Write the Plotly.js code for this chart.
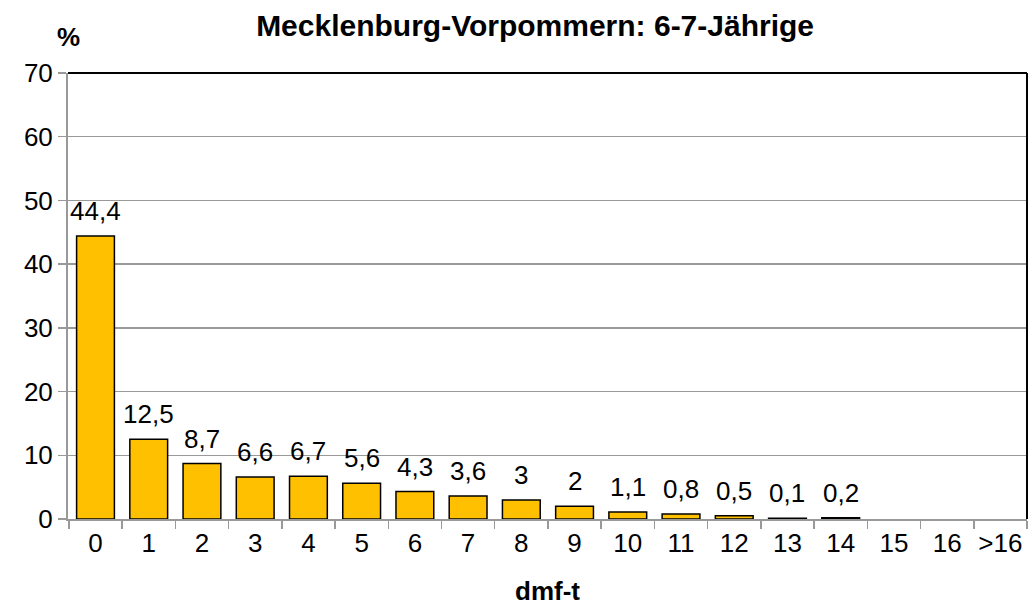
<!DOCTYPE html>
<html>
<head>
<meta charset="utf-8">
<script src="https://cdn.plot.ly/plotly-3.0.1.min.js"></script>
<style>html,body{margin:0;padding:0;background:#fff;}</style>
</head>
<body>
<div id="chart" style="width:1029px;height:606px;"></div>
<script>
const categories = ["0","1","2","3","4","5","6","7","8","9","10","11","12","13","14","15","16",">16"];
const values = [44.4, 12.5, 8.7, 6.6, 6.7, 5.6, 4.3, 3.6, 3, 2, 1.1, 0.8, 0.5, 0.1, 0.2, null, null, null];
const labels = values.map(v => v === null ? "" : String(v).replace(".", ","));
const yTicks = [0, 10, 20, 30, 40, 50, 60, 70];

const FONT = '"Liberation Sans", Arial, sans-serif';

const annotations = [];
categories.forEach((c, i) => {
  if (values[i] === null) return;
  annotations.push({
    x: c, y: values[i], xref: 'x', yref: 'y',
    text: labels[i], showarrow: false,
    yanchor: 'bottom', yshift: 8,
    font: {family: FONT, size: 26, color: '#000'}
  });
});
annotations.push({
  xref: 'paper', yref: 'paper', x: 0, y: 1, xanchor: 'center', yanchor: 'bottom',
  yshift: 19, text: '<b>%</b>', showarrow: false,
  font: {family: FONT, size: 26, color: '#000'}
});

const trace = {
  type: 'bar',
  x: categories,
  y: values,
  marker: {color: '#FFC000', line: {color: '#000', width: 1.5}},
  hoverinfo: 'none'
};

const layout = {
  width: 1029, height: 606,
  margin: {l: 68, r: 2, t: 73, b: 87},
  paper_bgcolor: '#fff', plot_bgcolor: '#fff',
  bargap: 0.29,
  showlegend: false,
  font: {family: FONT, color: '#000'},
  title: {
    text: '<b>Mecklenburg-Vorpommern: 6-7-Jährige</b>',
    x: 0.52, xanchor: 'center', y: 0.958, yanchor: 'middle',
    font: {family: FONT, size: 30, color: '#000'}
  },
  xaxis: {
    type: 'category',
    tickson: 'boundaries',
    tickangle: 0,
    ticks: 'outside', ticklen: 8, tickcolor: '#999', tickwidth: 1.5,
    showline: true, linecolor: '#999', linewidth: 2,
    showgrid: false, zeroline: false,
    tickfont: {family: FONT, size: 26, color: '#000'},
    title: {text: '<b>dmf-t</b>', font: {family: FONT, size: 26, color: '#000'}, standoff: 26}
  },
  yaxis: {
    range: [0, 70],
    tickvals: yTicks,
    ticktext: yTicks.map(String),
    ticks: 'outside', ticklen: 8, tickcolor: '#999', tickwidth: 1.5,
    showline: true, linecolor: '#999', linewidth: 2,
    showgrid: true, gridcolor: '#999', gridwidth: 1.5,
    zeroline: false,
    tickfont: {family: FONT, size: 26, color: '#000'}
  },
  shapes: [
    {type: 'line', xref: 'paper', yref: 'paper', x0: 0, x1: 1, y0: 1, y1: 1, line: {color: '#000', width: 2}},
    {type: 'line', xref: 'paper', yref: 'paper', x0: 1, x1: 1, y0: 0, y1: 1, line: {color: '#000', width: 2}}
  ],
  annotations: annotations
};

Plotly.newPlot('chart', [trace], layout, {displayModeBar: false, staticPlot: true});
</script>
</body>
</html>
